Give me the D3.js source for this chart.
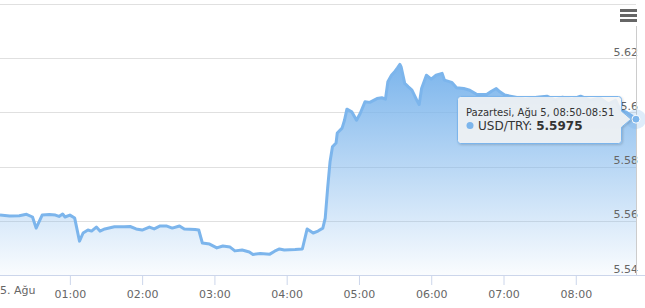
<!DOCTYPE html>
<html lang="tr">
<head>
<meta charset="UTF-8">
<title>USD/TRY</title>
<script src="https://cdn.jsdelivr.net/npm/d3@7"></script>
<style>
  body { margin: 0; background: #fff; }
  svg { display: block; font-family: "DejaVu Sans", sans-serif; }
</style>
</head>
<body>
<div id="chart"></div>
<script>
// saat (5 Ağustos) ve USD/TRY değerleri
const times = ["00:02","00:10","00:18","00:24","00:29","00:32","00:37","00:43","00:48","00:51",
  "00:54","00:56","01:00","01:04","01:08","01:11","01:15","01:18","01:22","01:25",
  "01:29","01:37","01:45","01:50","01:55","02:00","02:06","02:10","02:15","02:20",
  "02:25","02:31","02:35","02:44","02:47","02:50","02:56","03:02","03:07","03:13",
  "03:17","03:23","03:29","03:32","03:38","03:46","03:50","03:54","03:58","04:07",
  "04:13","04:17","04:22","04:26","04:30","04:32","04:34","04:36","04:38","04:41",
  "04:42","04:46","04:48","04:50","04:54","04:58","05:01","05:05","05:09","05:15",
  "05:19","05:22","05:24","05:27","05:30","05:32","05:34","05:35","05:38","05:41",
  "05:44","05:48","05:50","05:52","05:56","06:00","06:04","06:09","06:11","06:17",
  "06:21","06:27","06:32","06:38","06:46","06:50","06:54","06:57","07:01","07:10",
  "07:18","07:28","07:36","07:43","07:49","07:57","08:04","08:12","08:20","08:27",
  "08:33","08:37","08:42","08:47","08:50"];
const values = [5.5621,5.5618,5.5619,5.5624,5.5614,5.5573,5.5621,5.5623,5.5621,5.5616,
  5.5625,5.5614,5.5621,5.5610,5.5525,5.5555,5.5566,5.5562,5.5577,5.5562,
  5.5570,5.5578,5.5578,5.5579,5.5570,5.5566,5.5577,5.5570,5.5581,5.5581,
  5.5573,5.5581,5.5570,5.5568,5.5566,5.5518,5.5514,5.5500,5.5507,5.5503,
  5.5489,5.5492,5.5485,5.5476,5.5479,5.5477,5.5488,5.5496,5.5492,5.5494,
  5.5496,5.5570,5.5555,5.5562,5.5573,5.5610,5.5721,5.5818,5.5873,5.5887,
  5.5924,5.5942,5.5971,5.6012,5.6002,5.5971,5.5996,5.6039,5.6037,5.6051,
  5.6054,5.6049,5.6113,5.6137,5.6152,5.6164,5.6177,5.6168,5.6107,5.6094,
  5.6082,5.6045,5.6029,5.6088,5.6137,5.6123,5.6137,5.6144,5.6119,5.6111,
  5.6091,5.6088,5.6082,5.6066,5.6066,5.6078,5.6088,5.6076,5.6064,5.6056,
  5.6049,5.6056,5.6060,5.6045,5.6056,5.6049,5.6060,5.6045,5.6053,5.6031,
  5.6045,5.6008,5.6001,5.5986,5.5975];
const yTicks = [5.54, 5.56, 5.58, 5.6, 5.62, 5.64];
const yLabels = ["5.54", "5.56", "5.58", "5.6", "5.62", ""];
const hourTicks = ["01:00","02:00","03:00","04:00","05:00","06:00","07:00","08:00"];
const dayLabel = "5. Ağu";
const seriesName = "USD/TRY";
const tooltipHeader = "Pazartesi, Ağu 5, 08:50-08:51";

const width = 645, height = 308;
const plot = {left: 0, right: 636, top: 4, bottom: 275};
const color = "#7cb5ec";

const toDate = s => {
  const [h, m] = s.split(":").map(Number);
  return new Date(2019, 7, 5, h, m);
};
const data = times.map((t, i) => ({t: toDate(t), v: values[i]}));

const svg = d3.select("#chart").append("svg")
  .attr("width", width).attr("height", height);

const x = d3.scaleTime()
  .domain(d3.extent(data, d => d.t))
  .range([plot.left, plot.right]);
const y = d3.scaleLinear()
  .domain([yTicks[0], yTicks[yTicks.length - 1]])
  .range([plot.bottom, plot.top]);

// yatay ızgara çizgileri
svg.append("g").selectAll("line").data(yTicks.slice(1)).join("line")
  .attr("x1", plot.left).attr("x2", plot.right)
  .attr("y1", d => Math.round(y(d)) + 0.5).attr("y2", d => Math.round(y(d)) + 0.5)
  .attr("stroke", "#e0e0e0");

// alan dolgusu
const grad = svg.append("defs").append("linearGradient")
  .attr("id", "fillGrad").attr("x1", 0).attr("y1", 0).attr("x2", 0).attr("y2", 1);
grad.append("stop").attr("offset", 0).attr("stop-color", color).attr("stop-opacity", 1);
grad.append("stop").attr("offset", 1).attr("stop-color", color).attr("stop-opacity", 0.04);

const filt = svg.select("defs").append("filter").attr("id", "shadow")
  .attr("x", "-10%").attr("y", "-20%").attr("width", "130%").attr("height", "160%");
filt.append("feDropShadow").attr("dx", 1).attr("dy", 1).attr("stdDeviation", 1.2)
  .attr("flood-color", "#000").attr("flood-opacity", 0.18);

svg.append("path").datum(data)
  .attr("d", d3.area().x(d => x(d.t)).y0(plot.bottom).y1(d => y(d.v)))
  .attr("fill", "url(#fillGrad)");

svg.append("path").datum(data)
  .attr("d", d3.line().x(d => x(d.t)).y(d => y(d.v)))
  .attr("fill", "none").attr("stroke", color)
  .attr("stroke-width", 3).attr("stroke-linejoin", "round");

// x ekseni
const xAxis = svg.append("g").attr("transform", `translate(0,${plot.bottom})`)
  .call(d3.axisBottom(x).tickValues(hourTicks.map(toDate))
    .tickFormat(d3.timeFormat("%H:%M")).tickSize(10).tickPadding(5));
xAxis.select(".domain").attr("stroke", "#ccd6eb").attr("d", `M${plot.left},0.5H${width}`);
xAxis.selectAll(".tick line").attr("stroke", "#ccd6eb");
xAxis.selectAll(".tick text").attr("fill", "#666").attr("font-size", 11)
  .attr("font-family", "DejaVu Sans, sans-serif");
svg.append("text")
  .attr("x", Math.max(0, x(new Date(2019, 7, 5, 0, 0))))
  .attr("y", plot.bottom + 19)
  .attr("fill", "#666").attr("font-size", 11)
  .text(dayLabel);

// y ekseni etiketleri (sağ)
svg.append("g").selectAll("text").data(yTicks).join("text")
  .attr("x", 638).attr("y", d => y(d) - 2.5)
  .attr("text-anchor", "end").attr("fill", "#666").attr("font-size", 11)
  .text((d, i) => yLabels[i]);

// imleç çizgisi
const last = data[data.length - 1];
svg.append("line")
  .attr("x1", Math.round(x(last.t)) + 0.5).attr("x2", Math.round(x(last.t)) + 0.5)
  .attr("y1", 26).attr("y2", plot.bottom)
  .attr("stroke", "#cccccc");

// menü düğmesi
svg.append("g").selectAll("rect").data([0, 1, 2]).join("rect")
  .attr("x", 620).attr("y", d => 9 + d * 5).attr("width", 17).attr("height", 3)
  .attr("fill", "#666");

// vurgulanan nokta
const px = x(last.t), py = y(last.v);
svg.append("circle").attr("cx", px).attr("cy", py).attr("r", 10)
  .attr("fill", color).attr("fill-opacity", 0.25);
svg.append("circle").attr("cx", px).attr("cy", py).attr("r", 4)
  .attr("fill", color).attr("stroke", "#fff").attr("stroke-width", 1);

// ipucu kutusu
const tb = {x: 457.5, y: 96.5, w: 164, h: 47, r: 3};
const tipY = py;
const tip = `M${tb.x + tb.r},${tb.y}H${tb.x + tb.w - tb.r}Q${tb.x + tb.w},${tb.y} ${tb.x + tb.w},${tb.y + tb.r}`
  + `V${tipY - 8}L${px - 5},${tipY}L${tb.x + tb.w},${tipY + 8}`
  + `V${tb.y + tb.h - tb.r}Q${tb.x + tb.w},${tb.y + tb.h} ${tb.x + tb.w - tb.r},${tb.y + tb.h}`
  + `H${tb.x + tb.r}Q${tb.x},${tb.y + tb.h} ${tb.x},${tb.y + tb.h - tb.r}`
  + `V${tb.y + tb.r}Q${tb.x},${tb.y} ${tb.x + tb.r},${tb.y}Z`;
const tt = svg.append("g");
tt.append("path").attr("d", tip)
  .attr("fill", "rgba(247,247,247,0.85)").attr("stroke", color).attr("stroke-width", 1)
  .attr("filter", "url(#shadow)");
tt.append("text").attr("x", tb.x + 8.5).attr("y", tb.y + 19)
  .attr("font-size", 10).attr("fill", "#333").text(tooltipHeader);
tt.append("circle").attr("cx", tb.x + 12.5).attr("cy", tb.y + 29).attr("r", 3.5).attr("fill", color);
const line2 = tt.append("text").attr("x", tb.x + 20.5).attr("y", tb.y + 33)
  .attr("font-size", 12).attr("fill", "#333");
line2.append("tspan").text(seriesName + ": ");
line2.append("tspan").attr("font-weight", "bold").text(last.v.toFixed(4));
</script>
</body>
</html>
